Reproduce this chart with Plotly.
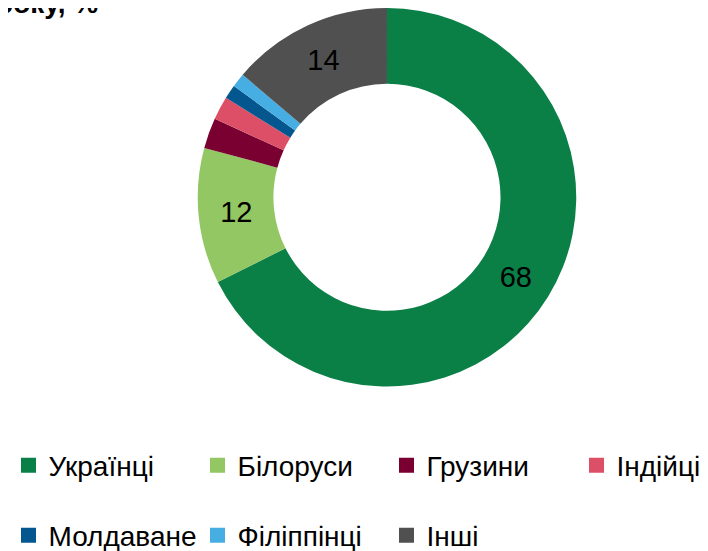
import plotly.graph_objects as go

categories = ["Українці", "Білоруси", "Грузини", "Індійці", "Молдаване", "Філіппінці", "Інші"]
values = [67.6, 11.6, 2.6, 2.0, 1.2, 1.2, 13.8]
colors = ["#0a7f46", "#92c763", "#7a0032", "#dd4f66", "#04568f", "#47aee3", "#505050"]
title_text = "2021 року, %"

labels_text = [f"{round(v):d}" if v >= 5 else "" for v in values]
FONT = "Liberation Sans, Arial, sans-serif"
W, H = 700, 543  # page body has an 8px margin

fig = go.Figure()
fig.add_trace(go.Pie(
    labels=categories, values=values, text=labels_text, textinfo="text",
    textposition="inside", insidetextorientation="horizontal",
    textfont=dict(family=FONT, size=29, color="black"),
    marker=dict(colors=colors, line=dict(width=0)),
    hole=0.6, sort=False, direction="clockwise", rotation=0,
    domain=dict(x=[0.2707, 0.8121], y=[0.3029, 1.0]),
    showlegend=False, hoverinfo="label+value",
))

legend_of = ["legend", "legend", "legend", "legend2", "legend3", "legend3", "legend3"]
for name, c, lg in zip(categories, colors, legend_of):
    fig.add_trace(go.Scatter(
        x=[None], y=[None], mode="markers", name=name,
        marker=dict(symbol="square", size=15, color=c),
        legend=lg,
    ))

legend_common = dict(orientation="h", font=dict(family=FONT, size=28, color="black"),
                     entrywidth=144, entrywidthmode="pixels", xanchor="left", yanchor="middle",
                     bgcolor="rgba(0,0,0,0)", itemclick=False, itemdoubleclick=False)

fig.update_layout(
    width=W, height=H,
    margin=dict(l=0, r=0, t=0, b=0, autoexpand=False),
    paper_bgcolor="white", plot_bgcolor="white",
    xaxis=dict(visible=False), yaxis=dict(visible=False),
    legend=dict(x=0.5 / W, y=1 - 457.5 / H, **legend_common),
    legend2=dict(x=568.5 / W, y=1 - 457.5 / H, **legend_common),
    legend3=dict(x=0.5 / W, y=1 - 527.5 / H, **legend_common),
    annotations=[dict(text=f"<b>{title_text}</b>", x=92 / W, y=1 - 13 / H, xref="paper", yref="paper",
                      xanchor="right", yanchor="bottom", showarrow=False,
                      font=dict(family=FONT, size=28, color="black"))],
)

fig.write_html("out.html")
